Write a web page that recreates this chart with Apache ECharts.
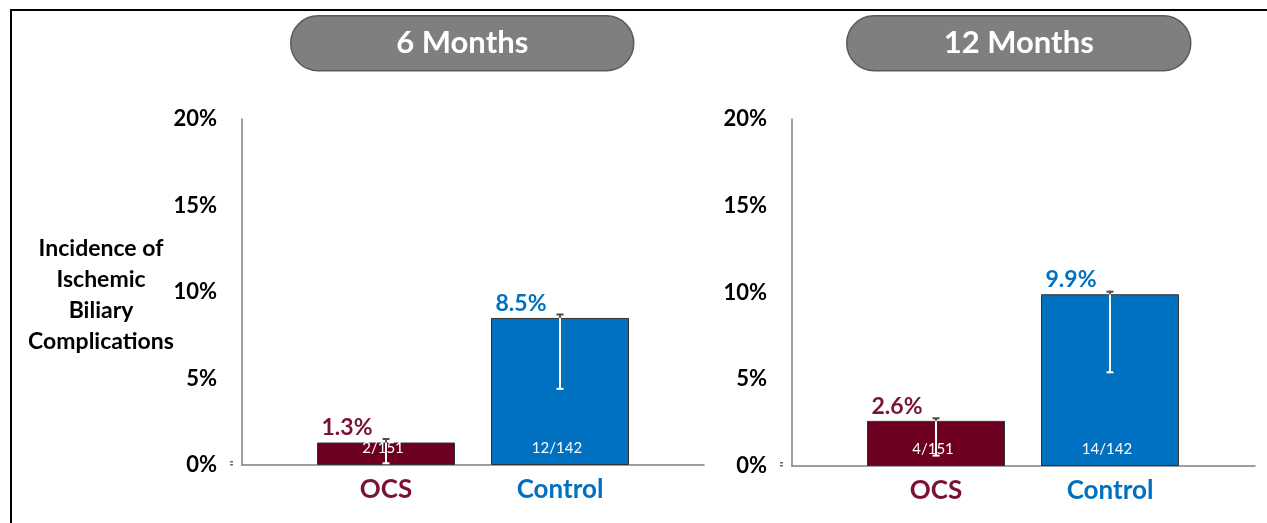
<!DOCTYPE html>
<html>
<head>
<meta charset="utf-8">
<script src="https://cdn.jsdelivr.net/npm/echarts@6/dist/echarts.min.js"></script>
<style>
  html, body { margin: 0; padding: 0; background: #fff; }
  #chart { width: 1267px; height: 523px; }
</style>
</head>
<body>
<div id="chart"></div>
<script>
// ---- data ----
const categories = ['OCS', 'Control'];
const panelTitles = ['6 Months', '12 Months'];

const rate6 = [1.3, 8.5];
const counts6 = ['2/151', '12/142'];
const errLow6 = [0.1, 4.4];
const errHigh6 = [1.5, 8.7];

const rate12 = [2.6, 9.9];
const counts12 = ['4/151', '14/142'];
const errLow12 = [0.6, 5.4];
const errHigh12 = [2.75, 10.05];

const yTicks = [0, 5, 10, 15, 20];
const yTitle = 'Incidence of\nIschemic\nBiliary\nComplications';

// ---- styles ----
const FONT = 'Lato, "Open Sans", sans-serif';
const barColors = ['#6d0020', '#0070c0'];
const textColors = ['#7a1332', '#0070c0'];
const axisGray = '#7f7f7f';

const panels = [
  { title: panelTitles[0], rate: rate6, counts: counts6, lo: errLow6, hi: errHigh6,
    outer: { left: 242, width: 462, top: 119, height: 346 },
    inner: { left: 299, width: 348, top: 119, height: 346 },
    pill: { x: 290, y: 15, w: 343, h: 55 } },
  { title: panelTitles[1], rate: rate12, counts: counts12, lo: errLow12, hi: errHigh12,
    outer: { left: 792, width: 463, top: 119, height: 347 },
    inner: { left: 849, width: 348, top: 119, height: 347 },
    pill: { x: 846, y: 15, w: 344, h: 55 } }
];

const grid = [], xAxis = [], yAxis = [], series = [], graphic = [];

panels.forEach((p, k) => {
  const go = grid.length, gi = go + 1;
  grid.push(Object.assign({ outerBoundsMode: 'none', containLabel: false }, p.outer));
  grid.push(Object.assign({ outerBoundsMode: 'none', containLabel: false }, p.inner));

  // outer frame: axis lines and percentage ticks
  xAxis.push({
    gridIndex: go, type: 'category', data: categories,
    axisLine: { lineStyle: { color: axisGray, width: 1.5 } },
    axisTick: { show: false }, axisLabel: { show: false }, splitLine: { show: false }
  });
  yAxis.push({
    gridIndex: go, type: 'value', min: yTicks[0], max: yTicks[yTicks.length - 1], interval: 5,
    axisLine: { show: true, lineStyle: { color: axisGray, width: 1.5 } },
    axisTick: { show: false }, splitLine: { show: false },
    axisLabel: { formatter: '{value}%', margin: 25, color: '#000',
      fontFamily: FONT, fontWeight: 'bold', fontSize: 22 }
  });

  // inner plot: bars, category names
  xAxis.push({
    gridIndex: gi, type: 'category', data: categories,
    axisLine: { show: false }, axisTick: { show: false },
    axisLabel: { margin: 12, fontFamily: FONT, fontWeight: 'bold', fontSize: 26,
      color: (v, i) => textColors[i] }
  });
  yAxis.push({
    gridIndex: gi, type: 'value', min: yTicks[0], max: yTicks[yTicks.length - 1], show: false
  });

  const xi = xAxis.length - 1, yi = yAxis.length - 1;

  series.push({
    type: 'bar', xAxisIndex: xi, yAxisIndex: yi, barWidth: 138,
    data: p.rate.map((v, i) => ({
      value: v,
      itemStyle: { color: barColors[i], borderColor: '#333', borderWidth: 1 },
      label: { formatter: p.counts[i] }
    })),
    label: { show: true, position: 'insideBottom', distance: 9, offset: [-3, 0], color: '#fff',
      fontFamily: FONT, fontSize: 15 },
    z: 2
  });

  // value labels above bars
  series.push({
    type: 'bar', xAxisIndex: xi, yAxisIndex: yi, barWidth: 138, barGap: '-100%',
    data: p.rate.map((v, i) => ({
      value: v,
      label: { color: textColors[i] }
    })),
    itemStyle: { color: 'transparent' },
    label: { show: true, position: 'top', distance: 3, offset: [-39, 0],
      formatter: (d) => d.value.toFixed(1) + '%',
      fontFamily: FONT, fontWeight: 'bold', fontSize: 23 },
    silent: true, z: 3
  });

  // error bars
  series.push({
    type: 'custom', xAxisIndex: xi, yAxisIndex: yi,
    data: p.rate.map((v, i) => [i, v, p.lo[i], p.hi[i]]),
    encode: { x: 0, y: [1, 2, 3] },
    renderItem: (params, api) => {
      const c = api.value(0);
      const top = api.coord([c, api.value(1)]);
      const lo = api.coord([c, api.value(2)]);
      const hi = api.coord([c, api.value(3)]);
      const x = top[0], cap = 3.5;
      return {
        type: 'group',
        children: [
          { type: 'line', shape: { x1: x, y1: lo[1], x2: x, y2: Math.max(top[1], hi[1]) },
            style: { stroke: '#fff', lineWidth: 2 } },
          { type: 'line', shape: { x1: x, y1: top[1], x2: x, y2: hi[1] },
            style: { stroke: '#5a5a5a', lineWidth: 2 } },
          { type: 'line', shape: { x1: x - cap, y1: hi[1], x2: x + cap, y2: hi[1] },
            style: { stroke: '#4a4a4a', lineWidth: 2 } },
          { type: 'line', shape: { x1: x - cap, y1: lo[1], x2: x + cap, y2: lo[1] },
            style: { stroke: '#fff', lineWidth: 2 } }
        ]
      };
    },
    z: 5
  });

  // panel heading pill
  graphic.push({
    type: 'group', left: p.pill.x, top: p.pill.y,
    children: [
      { type: 'rect', shape: { x: 0, y: 0, width: p.pill.w, height: p.pill.h, r: p.pill.h / 2 },
        style: { fill: '#7f7f7f', stroke: '#5a5a5a', lineWidth: 1.5 } },
      { type: 'text', x: p.pill.w / 2, y: p.pill.h / 2,
        style: { text: p.title, fill: '#fff', align: 'center', verticalAlign: 'middle',
          font: 'bold 31px ' + FONT } }
    ]
  });

  // small double dash beside the zero tick
  const dx = p.outer.left - 12, dy = p.outer.top + p.outer.height;
  graphic.push(
    { type: 'rect', shape: { x: dx, y: dy - 4, width: 3, height: 1.5 }, style: { fill: '#666' } },
    { type: 'rect', shape: { x: dx, y: dy - 1, width: 3, height: 1.5 }, style: { fill: '#666' } }
  );
});

// frame lines
graphic.push(
  { type: 'line', shape: { x1: 10, y1: 10, x2: 1267, y2: 10 }, style: { stroke: '#000', lineWidth: 2 } },
  { type: 'line', shape: { x1: 11, y1: 9, x2: 11, y2: 523 }, style: { stroke: '#000', lineWidth: 2 } }
);

// y-axis title
graphic.push({
  type: 'text', x: 101, y: 295,
  style: { text: yTitle, fill: '#000', align: 'center', verticalAlign: 'middle',
    font: 'bold 23px ' + FONT, lineHeight: 31 }
});

const chart = echarts.init(document.getElementById('chart'), null, { renderer: 'canvas' });
chart.setOption({
  animation: false,
  backgroundColor: '#fff',
  grid, xAxis, yAxis, series, graphic
});
</script>
</body>
</html>
